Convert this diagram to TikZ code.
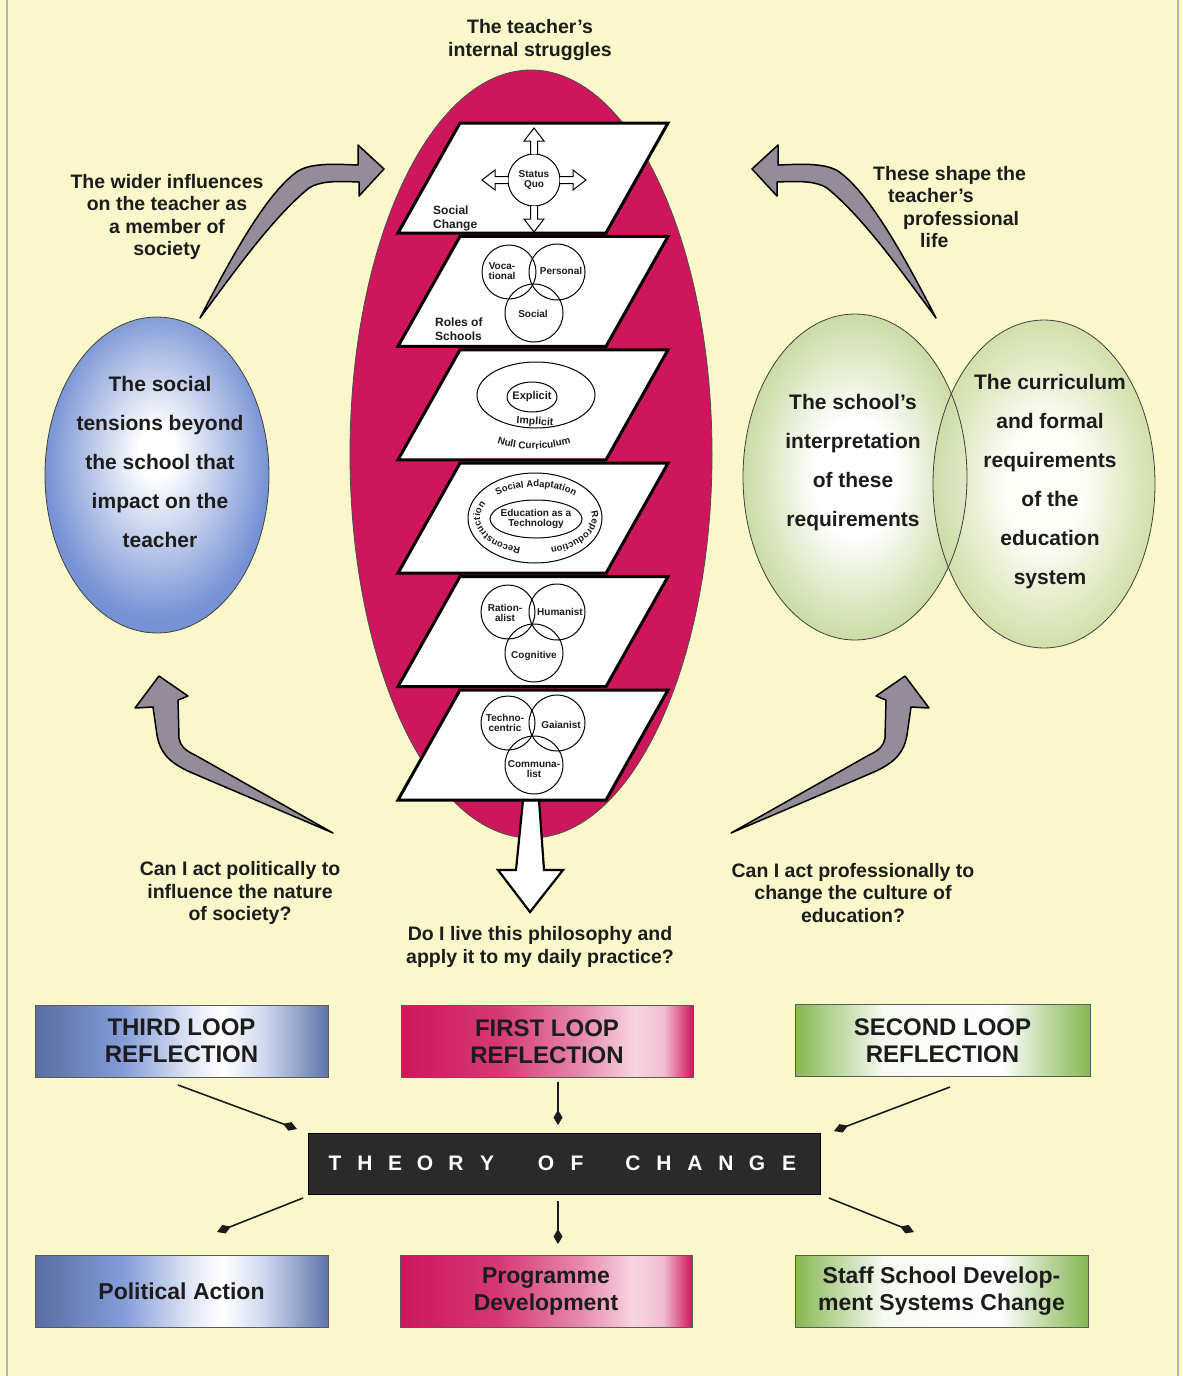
\documentclass[tikz,border=0pt]{standalone}
\usepackage{fontspec}
\setmainfont{Liberation Sans}
\usetikzlibrary{arrows.meta,decorations.text,calc}

\definecolor{bg}{HTML}{FAF8CA}
\definecolor{ink}{HTML}{1C1C1C}
\definecolor{crimson}{HTML}{CE165C}
\definecolor{blueedge}{HTML}{7691D4}
\definecolor{venngreen}{HTML}{CBDBA4}
\definecolor{bandgreen}{HTML}{86B752}
\definecolor{arrowgray}{HTML}{948C98}
\definecolor{theory}{HTML}{2A2A2A}
\definecolor{boxline}{HTML}{5A5A5A}

% soft radial fills for the side ellipses
\pgfdeclareradialshading{bluegrad}{\pgfpoint{0bp}{4bp}}{%
  color(0bp)=(white); color(4bp)=(white); color(25bp)=(blueedge); color(50bp)=(blueedge)}
\pgfdeclareradialshading{greengrad}{\pgfpoint{0bp}{0bp}}{%
  color(0bp)=(white); color(9bp)=(white); color(25bp)=(venngreen); color(50bp)=(venngreen)}

% colour bands for the six reflection/outcome boxes
\pgfdeclarehorizontalshading{blueband}{100bp}{%
  color(0bp)=(blueedge!75!black); color(25bp)=(blueedge!75!black);
  color(40bp)=(blueedge!90!white); color(52bp)=(blueedge!20!white);
  color(57bp)=(white); color(64bp)=(blueedge!35!white);
  color(75bp)=(blueedge!80!black); color(100bp)=(blueedge!80!black)}
\pgfdeclarehorizontalshading{pinkband}{100bp}{%
  color(0bp)=(crimson); color(25bp)=(crimson);
  color(42bp)=(crimson!85!white); color(56bp)=(crimson!50!white);
  color(65bp)=(crimson!18!white); color(70bp)=(crimson!28!white);
  color(75bp)=(crimson); color(100bp)=(crimson)}
\pgfdeclarehorizontalshading{greenband}{100bp}{%
  color(0bp)=(bandgreen); color(25bp)=(bandgreen);
  color(33bp)=(bandgreen!50!white); color(40bp)=(bandgreen!8!white);
  color(60bp)=(white); color(68bp)=(bandgreen!55!white);
  color(75bp)=(bandgreen); color(100bp)=(bandgreen)}

\newcommand\setfs[2]{\fontsize{#1}{#2}\selectfont}

\begin{document}
\begin{tikzpicture}[x=1pt,y=-1pt,
  lbl/.style={font=\setfs{19.5}{22.5}\bfseries, text=ink, align=center, inner sep=0pt},
  biglbl/.style={font=\setfs{21}{39}\bfseries, text=ink, align=center, inner sep=0pt},
  small/.style={font=\setfs{10}{10.5}\bfseries, text=ink, align=center, inner sep=0pt},
  side/.style={font=\setfs{12}{14}\bfseries, text=ink, align=left, inner sep=0pt, anchor=west},
  panel/.style={fill=white, draw=black, line width=3pt, line join=miter},
  venn/.style={draw=black, line width=1pt},
  shapearrow/.style={fill=arrowgray, draw=black, line width=1.5pt, line join=round},
  box/.style={draw=boxline, line width=1pt, minimum width=293pt, minimum height=72pt,
    shade, font=\setfs{24}{27}\bfseries, align=center, text=ink},
  theoryletter/.style={font=\setfs{21}{21}\bfseries, text=white, inner sep=0pt},
  conn/.style={line width=1.6pt, draw=ink, -{Diamond[length=15pt,width=9pt]}}]

\useasboundingbox (0,0) rectangle (1183,1376);
\fill[bg] (0,0) rectangle (1183,1376);
\draw[gray!60, line width=1.2pt] (7,0) -- (7,1376);
\draw[gray!60, line width=1.2pt] (1178,0) -- (1178,1376);

% ---------- central ellipse with the stack of planes ----------
\node[lbl] (struggles) at (530,40) {The teacher’s\\internal struggles};
\fill[crimson] (531,454) ellipse[x radius=181, y radius=384];
\draw[black!70, line width=0.8pt] (531,454) ellipse[x radius=181, y radius=384];

% hollow arrow leaving the stack
\draw[fill=white, line width=2.2pt, line join=miter]
  (523,800) -- (539,800) -- (544,870) -- (563,870) -- (530,912) -- (498,870) -- (516,870) -- cycle;

\foreach \i in {0,...,5}{
  \pgfmathsetmacro\t{123+113.4*\i}
  \draw[panel] (460,\t) -- (668,\t) -- (606,{\t+110}) -- (398,{\t+110}) -- cycle;
}

% plane 1: status quo and social change
\draw[venn, fill=white] (534,180) circle[radius=26];
\foreach \a in {0,90,180,270}{
  \draw[line width=1pt, fill=white, rotate around={\a:(534,180)}]
    (560,176.5) -- (573,176.5) -- (573,170) -- (586,180) -- (573,190) -- (573,183.5) -- (560,183.5);
}
\node[small] (statusquo) at (534,180) {Status\\Quo};
\node[side] (socialchange) at (433,218) {Social\\Change};

% plane 2: roles of schools
\draw[venn] (509,272) circle[radius=27];
\draw[venn] (557,272) circle[radius=28];
\draw[venn] (534,313) circle[radius=29];
\node[small] (vocational) at (502,271) {Voca-\\tional};
\node[small] (personal) at (561,271) {Personal};
\node[small] (socialrole) at (533,314) {Social};
\node[side] (roles) at (435,329) {Roles of\\Schools};

% plane 3: curriculum levels
\draw[venn] (536,395) ellipse[x radius=59, y radius=33];
\draw[venn] (532,397) ellipse[x radius=25, y radius=15];
\node[font=\setfs{11}{11}\bfseries, text=ink, inner sep=0pt] (explicit) at (532,397) {Explicit};
\node[font=\setfs{10.5}{11}\bfseries, text=ink, inner sep=0pt, rotate=-4] (implicit) at (535,422) {Implicit};
\path[decorate, decoration={text along path, text align=center,
    text={|\setfs{10}{10}\bfseries\color{ink}|Null Curriculum}}]
  ([shift={(534,350)}]140:110 and 99) arc[start angle=140, end angle=40, x radius=110, y radius=99];

% plane 4: curriculum orientations
\draw[venn] (535,518) ellipse[x radius=67, y radius=45];
\draw[venn] (536,519) ellipse[x radius=46, y radius=19];
\node[small] (edtech) at (536,519) {Education as a\\Technology};
\path[decorate, decoration={text along path, text align=center,
    text={|\setfs{9.5}{9.5}\bfseries\color{ink}|Social Adaptation}}]
  ([shift={(536,518)}]212:56 and 31) arc[start angle=212, end angle=328, x radius=56, y radius=31];
\path[decorate, decoration={text along path,
    text={|\setfs{9.5}{9.5}\bfseries\color{ink}|Reproduction}}]
  ([shift={(536,518)}]-12:56 and 31) arc[start angle=-12, end angle=110, x radius=56, y radius=31];
\path[decorate, decoration={text along path,
    text={|\setfs{9.5}{9.5}\bfseries\color{ink}|Reconstruction}}]
  ([shift={(536,518)}]106:56 and 31) arc[start angle=106, end angle=235, x radius=56, y radius=31];

% plane 5: curriculum ideologies
\draw[venn] (508,612) circle[radius=27];
\draw[venn] (557,612) circle[radius=28];
\draw[venn] (534,653) circle[radius=29];
\node[small] (rationalist) at (505,613) {Ration-\\alist};
\node[small] (humanist) at (560,612) {Humanist};
\node[small] (cognitive) at (534,656) {Cognitive};

% plane 6: environmental stances
\draw[venn] (508,723) circle[radius=27];
\draw[venn] (557,723) circle[radius=28];
\draw[venn] (534,765) circle[radius=29];
\node[small] (technocentric) at (505,723) {Techno-\\centric};
\node[small] (gaianist) at (561,725) {Gaianist};
\node[small] (communalist) at (534,769) {Communa-\\list};

% ---------- left: society ----------
\shade[shading=bluegrad] (157,475) ellipse[x radius=112, y radius=158];
\draw[black!75, line width=0.8pt] (157,475) ellipse[x radius=112, y radius=158];
\node[biglbl] (tensions) at (160,462)
  {The social\\tensions beyond\\the school that\\impact on the\\teacher};

% ---------- right: school and system ----------
\shade[shading=greengrad] (855,477) ellipse[x radius=112, y radius=163];
\shade[shading=greengrad, fill opacity=0.85] (1044,484) ellipse[x radius=111, y radius=164];
\draw[black!75, line width=0.8pt] (855,477) ellipse[x radius=112, y radius=163];
\draw[black!75, line width=0.8pt] (1044,484) ellipse[x radius=111, y radius=164];
\node[biglbl] (schoolview) at (853,463)
  {The school’s\\interpretation\\of these\\requirements};
\node[biglbl] (curriculum) at (1050,482)
  {The curriculum\\and formal\\requirements\\of the\\education\\system};

% ---------- bent grey arrows ----------
\def\upperarrow{(200,318) .. controls (235,250) and (268,192) .. (298,171)
  .. controls (312,163) and (332,164) .. (358,165) -- (358,145) -- (384,169)
  -- (359,196) -- (359,182) .. controls (336,181) and (320,181) .. (309,188)
  .. controls (272,218) and (232,275) .. cycle}
\draw[shapearrow] \upperarrow;
\begin{scope}[xshift=1136pt, xscale=-1]
  \draw[shapearrow] \upperarrow;
\end{scope}
\def\lowerarrow{(333,833) -- (190,772) .. controls (168,762) and (160,752) .. (157,735)
  -- (153,707) -- (135,708) -- (159,676) -- (188,696) -- (178,700) -- (179,738)
  .. controls (180,745) and (184,750) .. (195,755) -- cycle}
\draw[shapearrow] \lowerarrow;
\begin{scope}[xshift=1064pt, xscale=-1]
  \draw[shapearrow] \lowerarrow;
\end{scope}

\node[lbl] (wider) at (167,217) {The wider influences\\on the teacher as\\a member of\\society};
\node[lbl, align=left, anchor=west] (shape) at (873,207)
  {These shape the\\\hspace*{15pt}teacher’s\\\hspace*{30pt}professional\\\hspace*{47pt}life};
\node[lbl] (political) at (240,893) {Can I act politically to\\influence the nature\\of society?};
\node[lbl] (professional) at (853,893) {Can I act professionally to\\change the culture of\\education?};
\node[lbl] (daily) at (540,947) {Do I live this philosophy and\\apply it to my daily practice?};

% ---------- theory of change ----------
\node[box, shading=blueband] (third) at (181.5,1041) {THIRD LOOP\\REFLECTION};
\node[box, shading=pinkband, minimum width=292pt] (first) at (547,1041.5) {FIRST LOOP\\REFLECTION};
\node[box, shading=greenband, minimum width=295pt] (second) at (942.5,1040.5) {SECOND LOOP\\REFLECTION};
\node[box, shading=blueband, font=\setfs{23}{27}\bfseries] (action) at (181.5,1291.5) {Political Action};
\node[box, shading=pinkband, font=\setfs{23}{27}\bfseries, minimum width=292pt] (programme) at (546,1291) {Programme\\Development};
\node[box, shading=greenband, font=\setfs{23}{27}\bfseries] (staff) at (941.5,1291.5) {Staff School Develop-\\ment Systems Change};

\node[draw=black, fill=theory, minimum width=512pt, minimum height=61pt, inner sep=0pt] (theorybox) at (564,1163.5) {};
\foreach \ch/\xx [count=\k] in {T/335,H/365,E/395,O/425,R/456,Y/487,O/546,F/577,C/633,H/664,A/695,N/726,G/757,E/789}{
  \node[theoryletter] (tl\k) at (\xx,1163) {\ch};
}

\coordinate (t3a) at (178,1085);  \coordinate (t3b) at (297,1129);
\coordinate (t1a) at (558,1082);  \coordinate (t1b) at (558,1125);
\coordinate (t2a) at (950,1087);  \coordinate (t2b) at (834,1131);
\coordinate (oa1) at (303,1198);  \coordinate (oa2) at (217,1232);
\coordinate (op1) at (558,1201);  \coordinate (op2) at (558,1244);
\coordinate (os1) at (829,1198);  \coordinate (os2) at (914,1232);
\draw[conn] (t3a) -- (t3b);
\draw[conn] (t1a) -- (t1b);
\draw[conn] (t2a) -- (t2b);
\draw[conn] (oa1) -- (oa2);
\draw[conn] (op1) -- (op2);
\draw[conn] (os1) -- (os2);

\end{tikzpicture}
\end{document}
